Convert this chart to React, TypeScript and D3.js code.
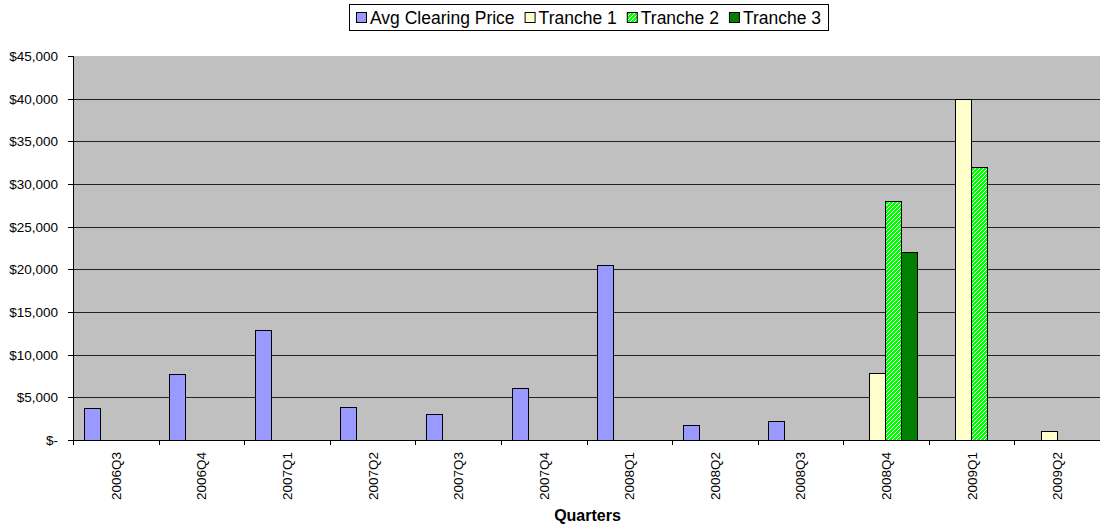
import { useEffect, useRef } from "react";
import * as d3 from "d3";

const quarters = ["2006Q3", "2006Q4", "2007Q1", "2007Q2", "2007Q3", "2007Q4", "2008Q1", "2008Q2", "2008Q3", "2008Q4", "2009Q1", "2009Q2"];
const avgClearingPrice = [3700, 7750, 12900, 3900, 3100, 6150, 20500, 1720, 2230, null, null, null];
const tranche1 = [null, null, null, null, null, null, null, null, null, 7800, 40000, 1000];
const tranche2 = [null, null, null, null, null, null, null, null, null, 28000, 32000, null];
const tranche3 = [null, null, null, null, null, null, null, null, null, 22000, null, null];
const seriesNames = ["Avg Clearing Price", "Tranche 1", "Tranche 2", "Tranche 3"];
const yTicks = [0, 5000, 10000, 15000, 20000, 25000, 30000, 35000, 40000, 45000];

const W = 1100;
const H = 529;
const margin = { top: 56, right: 0, bottom: 89, left: 73 };
const FONT = "'Liberation Sans', Arial, sans-serif";

export default function App() {
  const svgRef = useRef<SVGSVGElement>(null);

  useEffect(() => {
    const svg = d3.select(svgRef.current);
    svg.selectAll("*").remove();

    const series = [avgClearingPrice, tranche1, tranche2, tranche3];
    const fills = ["#9999FF", "#FFFFCC", "url(#hatch)", "#008000"];

    // hatch pattern for Tranche 2
    const defs = svg.append("defs");
    const pat = defs.append("pattern")
      .attr("id", "hatch")
      .attr("patternUnits", "userSpaceOnUse")
      .attr("width", 4)
      .attr("height", 4);
    pat.append("rect").attr("width", 4).attr("height", 4).attr("fill", "#00FF00");
    pat.append("path")
      .attr("d", "M-1,1 L1,-1 M0,4 L4,0 M3,5 L5,3")
      .attr("stroke", "#FFFFFF")
      .attr("stroke-width", 1);

    const x0 = d3.scaleBand<string>()
      .domain(quarters)
      .range([margin.left, W - margin.right])
      .padding(0);
    const x1 = d3.scaleBand<string>()
      .domain(seriesNames)
      .range([0, x0.bandwidth()])
      .paddingInner(0)
      .paddingOuter(0.75);
    const y = d3.scaleLinear()
      .domain([0, 45000])
      .range([H - margin.bottom, margin.top]);

    // plot background
    svg.append("rect")
      .attr("x", margin.left)
      .attr("y", margin.top)
      .attr("width", W - margin.right - margin.left)
      .attr("height", y(0) - margin.top)
      .attr("fill", "#C0C0C0");

    // gridlines
    svg.append("g")
      .selectAll("line")
      .data(yTicks.filter(d => d > 0 && d < 45000))
      .join("line")
      .attr("x1", margin.left)
      .attr("x2", W - margin.right)
      .attr("y1", d => Math.round(y(d)) + 0.5)
      .attr("y2", d => Math.round(y(d)) + 0.5)
      .attr("stroke", "#222")
      .attr("stroke-width", 1);

    // bars
    series.forEach((vals, si) => {
      svg.append("g")
        .selectAll("rect")
        .data(vals.map((v, i) => ({ q: quarters[i], v })).filter(d => d.v != null))
        .join("rect")
        .attr("x", d => Math.round(x0(d.q)! + x1(seriesNames[si])!) - 0.5)
        .attr("y", d => Math.round(y(d.v as number)) + 0.5)
        .attr("width", Math.round(x1.bandwidth()))
        .attr("height", d => Math.round(y(0)) - Math.round(y(d.v as number)))
        .attr("fill", fills[si])
        .attr("stroke", "#000")
        .attr("stroke-width", 1);
    });

    // y axis
    const yAxis = svg.append("g");
    yAxis.append("line")
      .attr("x1", margin.left + 0.5).attr("x2", margin.left + 0.5)
      .attr("y1", margin.top).attr("y2", y(0) + 0.5)
      .attr("stroke", "#000");
    yAxis.selectAll("line.tick")
      .data(yTicks)
      .join("line")
      .attr("class", "tick")
      .attr("x1", margin.left - 5).attr("x2", margin.left)
      .attr("y1", d => Math.round(y(d)) + 0.5)
      .attr("y2", d => Math.round(y(d)) + 0.5)
      .attr("stroke", "#000");
    yAxis.selectAll("text")
      .data(yTicks)
      .join("text")
      .attr("x", 58)
      .attr("y", d => y(d) + 5)
      .attr("text-anchor", "end")
      .attr("font-family", FONT)
      .attr("font-size", 13.5)
      .attr("fill", "#000")
      .text(d => d === 0 ? "$-" : "$" + d3.format(",")(d));

    // x axis
    const xAxis = svg.append("g");
    xAxis.append("line")
      .attr("x1", margin.left).attr("x2", W - margin.right)
      .attr("y1", Math.round(y(0)) + 0.5).attr("y2", Math.round(y(0)) + 0.5)
      .attr("stroke", "#000");
    xAxis.selectAll("line.tick")
      .data(quarters)
      .join("line")
      .attr("class", "tick")
      .attr("x1", d => Math.round(x0(d)!) + 0.5)
      .attr("x2", d => Math.round(x0(d)!) + 0.5)
      .attr("y1", y(0))
      .attr("y2", y(0) + 5)
      .attr("stroke", "#000");
    xAxis.selectAll("text")
      .data(quarters)
      .join("text")
      .attr("transform", d => `translate(${x0(d)! + x0.bandwidth() / 2 + 5},${y(0) + 12}) rotate(-90)`)
      .attr("text-anchor", "end")
      .attr("font-family", FONT)
      .attr("font-size", 13.5)
      .attr("fill", "#000")
      .text(d => d);

    // axis title
    svg.append("text")
      .attr("x", (margin.left + W - margin.right) / 2 + 1)
      .attr("y", 521)
      .attr("text-anchor", "middle")
      .attr("font-family", FONT)
      .attr("font-size", 16)
      .attr("font-weight", "bold")
      .attr("fill", "#000")
      .text("Quarters");

    // legend
    const legend = svg.append("g");
    const box = legend.append("rect")
      .attr("fill", "#fff")
      .attr("stroke", "#000")
      .attr("stroke-width", 1);
    let cx = 0;
    const gap = 10;
    const items: { x: number; si: number }[] = [];
    const texts = legend.selectAll("text")
      .data(seriesNames)
      .join("text")
      .attr("font-family", FONT)
      .attr("font-size", 17.5)
      .attr("fill", "#000")
      .attr("y", 23.5)
      .text(d => d);
    texts.each(function (_, i) {
      const len = (this as SVGTextElement).getComputedTextLength();
      items.push({ x: cx, si: i });
      d3.select(this).attr("x", cx + 14);
      cx += 14 + len + gap;
    });
    const total = cx - gap;
    const pad = 7;
    const left = 589 - total / 2;
    legend.attr("transform", `translate(${Math.round(left)},0)`);
    box.attr("x", -pad + 0.5).attr("y", 4.5).attr("width", Math.round(total + 2 * pad)).attr("height", 26);
    legend.selectAll("rect.key")
      .data(items)
      .join("rect")
      .attr("class", "key")
      .attr("x", d => d.x + 0.5)
      .attr("y", 12.5)
      .attr("width", 10)
      .attr("height", 10)
      .attr("fill", d => fills[d.si])
      .attr("stroke", "#000");
  }, []);

  return (
    <svg
      ref={svgRef}
      width={W}
      height={H}
      style={{ position: "absolute", left: 0, top: 0, background: "#fff" }}
    />
  );
}
